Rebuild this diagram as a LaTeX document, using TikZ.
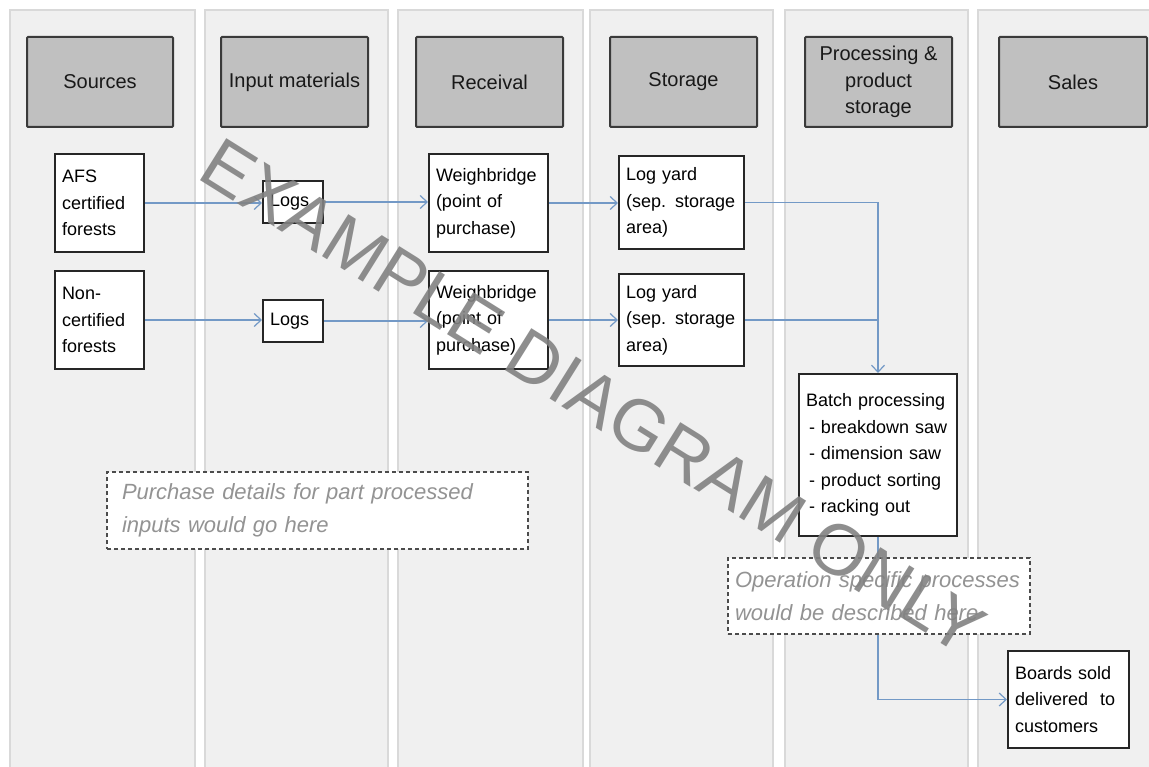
\documentclass[tikz,border=0pt]{standalone}
\usepackage{fontspec}
\setmainfont{Liberation Sans}
\usetikzlibrary{arrows.meta}
\definecolor{lanefill}{HTML}{F0F0F0}
\definecolor{laneline}{HTML}{D9D9D9}
\definecolor{headfill}{HTML}{C0C0C0}
\definecolor{headline}{HTML}{3A3A3A}
\definecolor{flow}{HTML}{7399C6}
\definecolor{notetext}{HTML}{939393}
\definecolor{wmark}{HTML}{828282}
\begin{document}
\begin{tikzpicture}[x=1pt,y=-1pt,
 lane/.style={fill=lanefill,draw=laneline,line width=1.5pt},
 head/.style={draw=headline,fill=headfill,line width=2pt,rounded corners=1pt,minimum height=90pt,align=center,font=\fontsize{20}{26.5}\selectfont,inner sep=0pt,text=black!90},
 box/.style={draw=black!85,fill=white,line width=2pt,align=left,inner xsep=7pt,inner ysep=0pt,font=\fontsize{18}{26.5}\selectfont},
 note/.style={draw=black!70,dash pattern=on 4pt off 3pt,fill=white,line width=1.2pt,align=left,inner ysep=0pt,font=\fontsize{22}{33}\selectfont\itshape,text=notetext},
 flowline/.style={draw=flow,line width=1.2pt},
 flowarrow/.style={flowline,-{Straight Barb[length=7pt,width=13pt,line width=1.2pt]}},
 wm/.style={text=wmark,opacity=0.9,font=\fontsize{72}{80}\selectfont,inner sep=0pt}
]
\useasboundingbox (0,0) rectangle (1149,767);
\fill[white] (0,0) rectangle (1149,767);
% lanes
\draw[lane] (10,10) rectangle (195,775);
\draw[lane] (205,10) rectangle (388,775);
\draw[lane] (398,10) rectangle (583,775);
\draw[lane] (590,10) rectangle (773,775);
\draw[lane] (785,10) rectangle (968,775);
\draw[lane] (978,10) rectangle (1160,775);
% headers
\node[head,minimum width=146pt] (h1) at (100,82) {Sources};
\node[head,minimum width=147pt] (h2) at (294.5,82) {Input materials};
\node[head,minimum width=147pt] (h3) at (489.5,82) {Receival};
\node[head,minimum width=147pt] (h4) at (683.5,82) {Storage};
\node[head,minimum width=147pt] (h5) at (878.5,82) {Processing \&\\product\\storage};
\node[head,minimum width=148pt] (h6) at (1073,82) {Sales};
% boxes
\node[box,text width=75pt,minimum height=98pt] (afs) at (99.5,203) {AFS\\certified\\forests};
\node[box,text width=75pt,minimum height=98pt] (non) at (99.5,320) {Non-\\certified\\forests};
\node[box,text width=46pt,minimum height=42pt] (logs1) at (293,202) {Logs};
\node[box,text width=46pt,minimum height=42pt] (logs2) at (293,321) {Logs};
\node[box,text width=105pt,minimum height=98pt] (wb1) at (488.5,203) {Weighbridge\\(point of\\purchase)};
\node[box,text width=105pt,minimum height=98pt] (wb2) at (488.5,320) {Weighbridge\\(point of\\purchase)};
\node[box,text width=111pt,minimum height=93pt] (ly1) at (681.5,202.5) {Log yard\\\mbox{(sep. storage}\\area)};
\node[box,text width=111pt,minimum height=92pt] (ly2) at (681.5,320) {Log yard\\\mbox{(sep. storage}\\area)};
\node[box,text width=144pt,minimum height=162pt] (batch) at (878,455) {\mbox{Batch processing}\\\mbox{\hspace*{3pt}- breakdown saw}\\\mbox{\hspace*{3pt}- dimension saw}\\\mbox{\hspace*{3pt}- product sorting}\\\mbox{\hspace*{3pt}- racking out}};
\node[box,text width=107pt,minimum height=97pt] (boards) at (1068.5,699.5) {Boards sold\\delivered~ to\\customers};
% connectors
\draw[flowarrow] (afs.east) -- (afs.east -| logs1.west);
\draw[flowarrow] (logs1.east) -- (logs1.east -| wb1.west);
\draw[flowarrow] (wb1.east) -- (wb1.east -| ly1.west);
\draw[flowarrow] (ly1.east) -| (batch.north);
\draw[flowarrow] (non.east) -- (non.east -| logs2.west);
\draw[flowarrow] (logs2.east) -- (logs2.east -| wb2.west);
\draw[flowarrow] (wb2.east) -- (wb2.east -| ly2.west);
\draw[flowline] (ly2.east) -- (ly2.east -| batch.north);
\draw[flowarrow] (batch.south) |- (boards.west);
% notes
\node[note,inner xsep=15pt,text width=391pt,minimum height=77pt] (purchase) at (317.5,510.5) {\mbox{Purchase details for part processed}\\\mbox{inputs would go here}};
\node[note,inner xsep=7pt,text width=288pt,minimum height=76pt] (oper) at (879,596) {\mbox{Operation specific processes}\\\mbox{would be described here}};
% watermark
\node[wm,anchor=base west,rotate=-32] (mark) at (195,177) {EXAMPLE DIAGRAM ONLY};
\end{tikzpicture}
\end{document}
